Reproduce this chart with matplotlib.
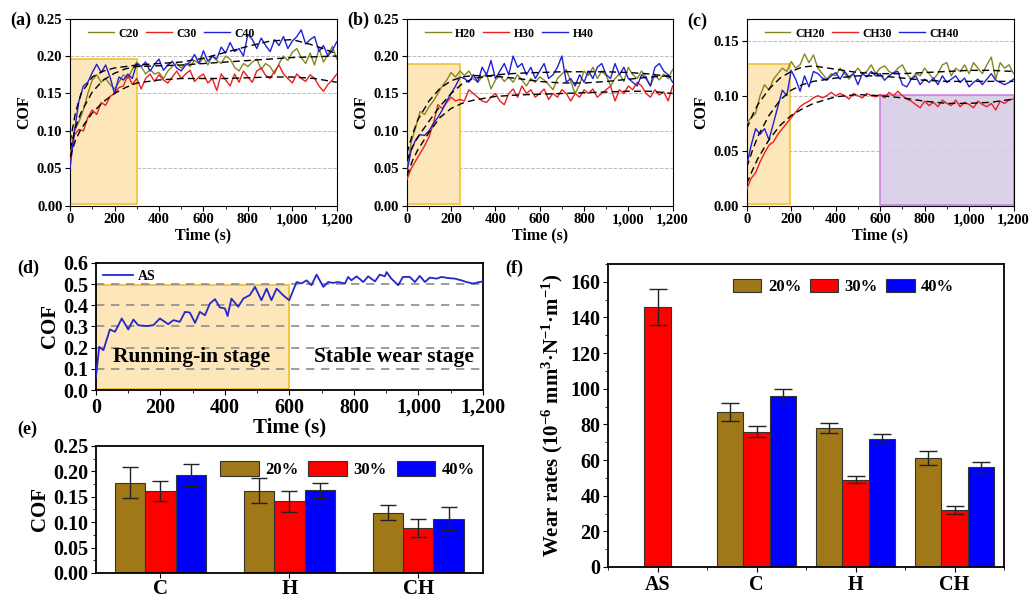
import numpy as np
import matplotlib
matplotlib.use('Agg')
import matplotlib.pyplot as plt
from matplotlib.patches import Rectangle
from matplotlib.ticker import MultipleLocator, StrMethodFormatter

plt.rcParams['font.family'] = ['Liberation Serif', 'DejaVu Serif']
plt.rcParams['font.weight'] = 'bold'
plt.rcParams['axes.labelweight'] = 'bold'
plt.rcParams['mathtext.fontset'] = 'custom'
plt.rcParams['mathtext.rm'] = 'Liberation Serif:bold'
plt.rcParams['mathtext.it'] = 'Liberation Serif:bold'
plt.rcParams['mathtext.bf'] = 'Liberation Serif:bold'

OLIVE = '#868620'
RED = '#E82020'
BLUE = '#2020D8'
BROWN = '#A07818'
BOX_FC = '#FCE6BA'
BOX_EC = '#F2C232'

# ---- friction curves, sampled every 20 s ----
t20 = np.arange(0, 1201, 20)
fit_t = [0, 25, 50, 100, 150, 200, 250, 300, 400, 500, 600, 700, 800, 900, 1000, 1100, 1200]

c20 = [0.070, 0.100, 0.112, 0.128, 0.150, 0.168, 0.175, 0.165, 0.170, 0.162, 0.156, 0.165, 0.175, 0.170, 0.182,
       0.192, 0.186, 0.176, 0.182, 0.176, 0.178, 0.170, 0.180, 0.186, 0.190, 0.184, 0.190, 0.186, 0.194, 0.190,
       0.198, 0.188, 0.200, 0.194, 0.190, 0.200, 0.196, 0.185, 0.180, 0.190, 0.186, 0.192, 0.196, 0.182, 0.190,
       0.186, 0.176, 0.190, 0.200, 0.194, 0.205, 0.210, 0.198, 0.190, 0.204, 0.188, 0.210, 0.192, 0.202, 0.213,
       0.196]
c30 = [0.060, 0.095, 0.102, 0.100, 0.118, 0.128, 0.122, 0.138, 0.134, 0.146, 0.150, 0.158, 0.160, 0.175, 0.162,
       0.170, 0.156, 0.170, 0.176, 0.166, 0.175, 0.168, 0.164, 0.172, 0.180, 0.170, 0.176, 0.181, 0.166, 0.172,
       0.176, 0.164, 0.170, 0.154, 0.176, 0.168, 0.160, 0.176, 0.165, 0.180, 0.172, 0.165, 0.180, 0.184, 0.174,
       0.170, 0.180, 0.188, 0.176, 0.170, 0.164, 0.176, 0.170, 0.166, 0.175, 0.170, 0.160, 0.153, 0.162, 0.168,
       0.176]
c40 = [0.050, 0.100, 0.140, 0.160, 0.165, 0.178, 0.189, 0.178, 0.188, 0.172, 0.150, 0.172, 0.168, 0.176, 0.170,
       0.190, 0.186, 0.192, 0.180, 0.189, 0.196, 0.181, 0.188, 0.193, 0.184, 0.180, 0.188, 0.192, 0.202, 0.190,
       0.207, 0.193, 0.200, 0.196, 0.212, 0.204, 0.218, 0.206, 0.210, 0.200, 0.229, 0.222, 0.210, 0.224, 0.214,
       0.206, 0.222, 0.214, 0.226, 0.210, 0.220, 0.226, 0.235, 0.216, 0.222, 0.226, 0.206, 0.214, 0.200, 0.208,
       0.219]
c20_fit = [0.075, 0.105, 0.125, 0.152, 0.168, 0.177, 0.183, 0.186, 0.187, 0.188, 0.190, 0.192, 0.194, 0.196, 0.198, 0.199, 0.200]
c30_fit = [0.065, 0.088, 0.103, 0.124, 0.139, 0.150, 0.158, 0.164, 0.168, 0.170, 0.170, 0.170, 0.171, 0.172, 0.172, 0.170, 0.165]
c40_fit = [0.085, 0.125, 0.150, 0.172, 0.180, 0.184, 0.186, 0.188, 0.190, 0.192, 0.197, 0.205, 0.213, 0.220, 0.222, 0.214, 0.203]

h20 = [0.050, 0.085, 0.105, 0.126, 0.122, 0.132, 0.140, 0.150, 0.160, 0.168, 0.178, 0.172, 0.180, 0.174, 0.180,
       0.170, 0.165, 0.172, 0.176, 0.156, 0.168, 0.174, 0.166, 0.172, 0.165, 0.175, 0.168, 0.160, 0.170, 0.165,
       0.172, 0.168, 0.162, 0.155, 0.170, 0.176, 0.182, 0.166, 0.150, 0.162, 0.180, 0.174, 0.185, 0.170, 0.180,
       0.174, 0.160, 0.170, 0.176, 0.166, 0.185, 0.175, 0.170, 0.180, 0.172, 0.160, 0.175, 0.168, 0.176, 0.170,
       0.182]
h30 = [0.035, 0.050, 0.060, 0.070, 0.080, 0.092, 0.110, 0.135, 0.130, 0.138, 0.145, 0.140, 0.142, 0.140, 0.155,
       0.150, 0.145, 0.140, 0.138, 0.145, 0.150, 0.140, 0.135, 0.150, 0.156, 0.145, 0.160, 0.150, 0.155, 0.145,
       0.150, 0.156, 0.142, 0.150, 0.145, 0.155, 0.150, 0.140, 0.150, 0.145, 0.155, 0.150, 0.156, 0.145, 0.150,
       0.155, 0.160, 0.140, 0.155, 0.150, 0.160, 0.155, 0.165, 0.160, 0.150, 0.145, 0.155, 0.148, 0.152, 0.140,
       0.160]
h40 = [0.045, 0.075, 0.088, 0.095, 0.094, 0.100, 0.110, 0.118, 0.128, 0.140, 0.150, 0.160, 0.172, 0.170, 0.165,
       0.175, 0.165, 0.185, 0.175, 0.194, 0.170, 0.180, 0.190, 0.175, 0.200, 0.185, 0.190, 0.175, 0.185, 0.170,
       0.180, 0.190, 0.170, 0.175, 0.185, 0.200, 0.165, 0.170, 0.160, 0.175, 0.165, 0.180, 0.170, 0.185, 0.190,
       0.175, 0.170, 0.190, 0.175, 0.185, 0.170, 0.165, 0.160, 0.175, 0.170, 0.160, 0.185, 0.190, 0.180, 0.175,
       0.165]
h20_fit = [0.070, 0.095, 0.115, 0.140, 0.157, 0.167, 0.172, 0.174, 0.173, 0.170, 0.166, 0.164, 0.164, 0.166, 0.169, 0.172, 0.174]
h30_fit = [0.040, 0.060, 0.075, 0.098, 0.118, 0.130, 0.137, 0.141, 0.146, 0.148, 0.149, 0.150, 0.151, 0.152, 0.153, 0.153, 0.150]
h40_fit = [0.060, 0.078, 0.092, 0.113, 0.133, 0.150, 0.163, 0.170, 0.175, 0.177, 0.178, 0.179, 0.179, 0.179, 0.178, 0.176, 0.172]

ch20 = [0.075, 0.080, 0.084, 0.100, 0.110, 0.105, 0.115, 0.120, 0.125, 0.122, 0.131, 0.125, 0.128, 0.138, 0.130,
        0.137, 0.125, 0.120, 0.115, 0.120, 0.118, 0.125, 0.120, 0.115, 0.120, 0.125, 0.120, 0.122, 0.128, 0.120,
        0.125, 0.127, 0.122, 0.120, 0.125, 0.128, 0.120, 0.115, 0.120, 0.118, 0.125, 0.120, 0.115, 0.120, 0.128,
        0.130, 0.118, 0.125, 0.122, 0.128, 0.120, 0.130, 0.125, 0.120, 0.128, 0.135, 0.115, 0.130, 0.125, 0.128,
        0.120]
ch30 = [0.015, 0.025, 0.030, 0.040, 0.048, 0.055, 0.058, 0.065, 0.070, 0.075, 0.080, 0.085, 0.090, 0.093, 0.095,
        0.098, 0.100, 0.098, 0.100, 0.103, 0.100, 0.102, 0.100, 0.097, 0.102, 0.100, 0.098, 0.102, 0.100, 0.099,
        0.101, 0.098, 0.103, 0.100, 0.104, 0.100, 0.097, 0.095, 0.092, 0.089, 0.095, 0.091, 0.094, 0.090, 0.096,
        0.093, 0.091, 0.096, 0.090, 0.094, 0.092, 0.089, 0.095, 0.092, 0.090, 0.093, 0.087, 0.095, 0.093, 0.096,
        0.097]
ch40 = [0.037, 0.055, 0.070, 0.065, 0.070, 0.060, 0.075, 0.090, 0.105, 0.100, 0.123, 0.115, 0.104, 0.118, 0.108,
        0.122, 0.120, 0.116, 0.114, 0.118, 0.121, 0.115, 0.122, 0.117, 0.120, 0.110, 0.120, 0.117, 0.122, 0.118,
        0.120, 0.114, 0.118, 0.121, 0.122, 0.110, 0.108, 0.115, 0.118, 0.110, 0.115, 0.112, 0.116, 0.110, 0.118,
        0.112, 0.115, 0.118, 0.112, 0.116, 0.108, 0.112, 0.115, 0.110, 0.115, 0.120, 0.114, 0.112, 0.110, 0.112,
        0.115]
ch20_fit = [0.070, 0.082, 0.092, 0.106, 0.116, 0.122, 0.126, 0.127, 0.124, 0.121, 0.120, 0.120, 0.121, 0.122, 0.123, 0.123, 0.122]
ch30_fit = [0.020, 0.032, 0.043, 0.060, 0.073, 0.082, 0.088, 0.093, 0.099, 0.101, 0.100, 0.098, 0.095, 0.093, 0.093, 0.094, 0.097]
ch40_fit = [0.035, 0.050, 0.063, 0.082, 0.096, 0.105, 0.110, 0.113, 0.116, 0.118, 0.118, 0.116, 0.114, 0.113, 0.113, 0.113, 0.113]

# AS substrate curve (irregular sampling)
as_t = [0, 10, 23, 43, 59, 80, 100, 116, 131, 157, 178, 198, 224, 240, 260, 276, 291, 307, 322, 338, 353, 369,
        384, 400, 408, 420, 441, 457, 477, 493, 513, 529, 544, 560, 580, 599, 622, 637, 653, 668, 684, 705, 720,
        735, 751, 772, 782, 792, 808, 829, 844, 865, 880, 896, 901, 916, 937, 952, 973, 989, 1004, 1020, 1035,
        1056, 1071, 1092, 1113, 1133, 1149, 1169, 1190, 1200]
as_cof = [0.063, 0.204, 0.188, 0.286, 0.275, 0.338, 0.286, 0.333, 0.306, 0.302, 0.306, 0.338, 0.311, 0.330, 0.322,
          0.369, 0.366, 0.317, 0.369, 0.353, 0.408, 0.429, 0.390, 0.385, 0.349, 0.432, 0.393, 0.432, 0.448, 0.487,
          0.424, 0.479, 0.424, 0.479, 0.448, 0.424, 0.510, 0.503, 0.518, 0.495, 0.545, 0.487, 0.510, 0.506, 0.510,
          0.503, 0.534, 0.518, 0.537, 0.510, 0.537, 0.513, 0.545, 0.537, 0.557, 0.526, 0.495, 0.534, 0.534, 0.510,
          0.539, 0.510, 0.531, 0.526, 0.534, 0.529, 0.526, 0.518, 0.510, 0.503, 0.510, 0.513]

# ---- average COF (e) ----
cof_groups = ['C', 'H', 'CH']
cof_20 = [0.178, 0.162, 0.119]
cof_20_err = [0.030, 0.025, 0.015]
cof_30 = [0.162, 0.141, 0.089]
cof_30_err = [0.020, 0.020, 0.018]
cof_40 = [0.193, 0.163, 0.107]
cof_40_err = [0.021, 0.015, 0.023]

# ---- wear rates (f) ----
wr_cats = ['AS', 'C', 'H', 'CH']
as_wr, as_wr_err = 146, 10
wr_20 = [87, 78, 61]
wr_20_err = [5, 3, 4]
wr_30 = [76, 49, 32]
wr_30_err = [3, 2, 2]
wr_40 = [96, 72, 56]
wr_40_err = [4, 2.5, 3]

fig = plt.figure(figsize=(10.3, 6), dpi=100)


def time_axis(ax, labelsize):
    ax.set_xlim(0, 1200)
    ax.xaxis.set_major_locator(MultipleLocator(200))
    ax.xaxis.set_minor_locator(MultipleLocator(100))
    ax.xaxis.set_major_formatter(StrMethodFormatter('{x:,.0f}'))
    ax.tick_params(direction='out', labelsize=labelsize)


def cof_panel(rect, curves, names, fits, ymax, box):
    ax = fig.add_axes(rect)
    ax.add_patch(Rectangle((0, 0.002), box[0], box[1], fc=BOX_FC, ec=BOX_EC, lw=1.2, zorder=1))
    for vals, col, name in zip(curves, [OLIVE, RED, BLUE], names):
        ax.plot(t20, vals, color=col, lw=1.0, label=name, zorder=3)
    for f in fits:
        ax.plot(fit_t, f, color='k', ls=(0, (5, 3)), lw=1.0, zorder=4)
    time_axis(ax, 10.5)
    ax.tick_params(pad=2)
    ax.set_ylim(0, ymax)
    ax.yaxis.set_major_locator(MultipleLocator(0.05))
    ax.yaxis.set_major_formatter(StrMethodFormatter('{x:.2f}'))
    ax.yaxis.grid(True, ls='--', color='#BBBBBB', lw=0.7)
    ax.set_axisbelow(True)
    ax.set_xlabel('Time (s)', fontsize=11.5, labelpad=1)
    ax.set_ylabel('COF', fontsize=11.5, labelpad=3)
    ax.legend(loc='upper left', bbox_to_anchor=(0.04, 0.99), ncol=3, frameon=False, fontsize=8.5,
              handlelength=2.2, columnspacing=0.6, handletextpad=0.4, borderaxespad=0.2)
    return ax


ax_a = cof_panel([0.068, 0.657, 0.259, 0.312], [c20, c30, c40], ['C20', 'C30', 'C40'],
                 [c20_fit, c30_fit, c40_fit], 0.25, (300, 0.194))
ax_b = cof_panel([0.395, 0.657, 0.258, 0.312], [h20, h30, h40], ['H20', 'H30', 'H40'],
                 [h20_fit, h30_fit, h40_fit], 0.25, (240, 0.187))
ax_c = cof_panel([0.725, 0.657, 0.259, 0.312], [ch20, ch30, ch40], ['CH20', 'CH30', 'CH40'],
                 [ch20_fit, ch30_fit, ch40_fit], 0.17, (195, 0.127))
ax_c.add_patch(Rectangle((600, 0.001), 600, 0.1, fc='#D8CCE6', ec='#CC77DD', lw=1.2, zorder=2, alpha=0.9))

# (d) AS friction curve
ax_d = fig.add_axes([0.0932, 0.35, 0.3757, 0.2117])
ax_d.add_patch(Rectangle((0, 0.003), 600, 0.492, fc=BOX_FC, ec=BOX_EC, lw=1.3, zorder=1))
for yv in [0.1, 0.2, 0.3, 0.4, 0.5]:
    ax_d.axhline(yv, color='#8C8C8C', ls=(0, (5, 4)), lw=1.2, zorder=1.5)
ax_d.plot(as_t, as_cof, color='#2626D0', lw=1.3, label='AS', zorder=3)
time_axis(ax_d, 14.5)
ax_d.tick_params(pad=2)
ax_d.set_ylim(0, 0.6)
ax_d.yaxis.set_major_locator(MultipleLocator(0.1))
ax_d.yaxis.set_major_formatter(StrMethodFormatter('{x:.1f}'))
ax_d.set_xlabel('Time (s)', fontsize=15, labelpad=0)
ax_d.set_ylabel('COF', fontsize=15, labelpad=2)
ax_d.text(295, 0.155, 'Running-in stage', ha='center', va='center', fontsize=15.5, zorder=4)
ax_d.text(924, 0.155, 'Stable wear stage', ha='center', va='center', fontsize=15.5, zorder=4)
ax_d.legend(loc='upper left', frameon=False, fontsize=10, handlelength=2.2, borderaxespad=0.1,
            handletextpad=0.3)

# (e) average COF bars
ax_e = fig.add_axes([0.0932, 0.045, 0.3757, 0.2117])
xe = np.arange(1, len(cof_groups) + 1)
we = 0.233
ek = dict(ecolor='#222222', capsize=6, elinewidth=1.0, capthick=1.0)
ax_e.bar(xe - we, cof_20, we, yerr=cof_20_err, color=BROWN, ec='#333333', lw=0.8, label='20%', error_kw=ek)
ax_e.bar(xe, cof_30, we, yerr=cof_30_err, color='#FF0000', ec='#333333', lw=0.8, label='30%', error_kw=ek)
ax_e.bar(xe + we, cof_40, we, yerr=cof_40_err, color='#0000FF', ec='#333333', lw=0.8, label='40%', error_kw=ek)
ax_e.set_xlim(0.5, 3.5)
ax_e.set_ylim(0, 0.25)
ax_e.set_xticks(xe)
ax_e.set_xticklabels(cof_groups)
ax_e.yaxis.set_major_locator(MultipleLocator(0.05))
ax_e.yaxis.set_minor_locator(MultipleLocator(0.025))
ax_e.yaxis.set_major_formatter(StrMethodFormatter('{x:.2f}'))
ax_e.tick_params(direction='out', labelsize=14.5, pad=2)
ax_e.tick_params(axis='x', labelsize=15, pad=1)
ax_e.set_ylabel('COF', fontsize=15, labelpad=2)
ax_e.legend(loc='upper center', bbox_to_anchor=(0.65, 1.0), ncol=3, frameon=False, fontsize=12,
            handlelength=2.3, handleheight=1.0, columnspacing=0.6, handletextpad=0.4)

# (f) wear rates
ax_f = fig.add_axes([0.5903, 0.055, 0.3845, 0.505])
xf = np.arange(2, len(wr_cats) + 1)
wf = 0.265
ek = dict(ecolor='#222222', capsize=6.5, elinewidth=1.0, capthick=1.0)
ax_f.bar([1], [as_wr], wf, yerr=[as_wr_err], color='#FF0000', ec='#333333', lw=0.8, error_kw=ek)
ax_f.bar(xf - wf, wr_20, wf, yerr=wr_20_err, color=BROWN, ec='#333333', lw=0.8, label='20%', error_kw=ek)
ax_f.bar(xf, wr_30, wf, yerr=wr_30_err, color='#FF0000', ec='#333333', lw=0.8, label='30%', error_kw=ek)
ax_f.bar(xf + wf, wr_40, wf, yerr=wr_40_err, color='#0000FF', ec='#333333', lw=0.8, label='40%', error_kw=ek)
ax_f.set_xlim(0.5, 4.5)
ax_f.set_ylim(0, 170)
ax_f.set_xticks(np.arange(1, len(wr_cats) + 1))
ax_f.set_xticklabels(wr_cats)
ax_f.xaxis.set_minor_locator(MultipleLocator(0.5))
ax_f.yaxis.set_major_locator(MultipleLocator(20))
ax_f.yaxis.set_minor_locator(MultipleLocator(10))
ax_f.tick_params(direction='out', labelsize=14.5, pad=2)
ax_f.set_ylabel('Wear rates (10$^{-6}$ mm$^{3}$·N$^{-1}$·m$^{-1}$)', fontsize=15, labelpad=4)
ax_f.legend(loc='upper center', bbox_to_anchor=(0.595, 1.0), ncol=3, frameon=False, fontsize=12,
            handlelength=1.7, handleheight=0.85, columnspacing=0.5, handletextpad=0.4)

for ax in [ax_d, ax_e, ax_f]:
    for s in ax.spines.values():
        s.set_linewidth(1.3)

for txt, x, y in [('(a)', 10, 20), ('(b)', 347, 20), ('(c)', 687, 21),
                  ('(d)', 17, 268), ('(e)', 17, 429), ('(f)', 505, 268)]:
    fig.text(x / 1030, 1 - y / 600, txt, ha='left', va='center', fontsize=13, fontweight='bold')

fig.savefig('out.png', dpi=100)
